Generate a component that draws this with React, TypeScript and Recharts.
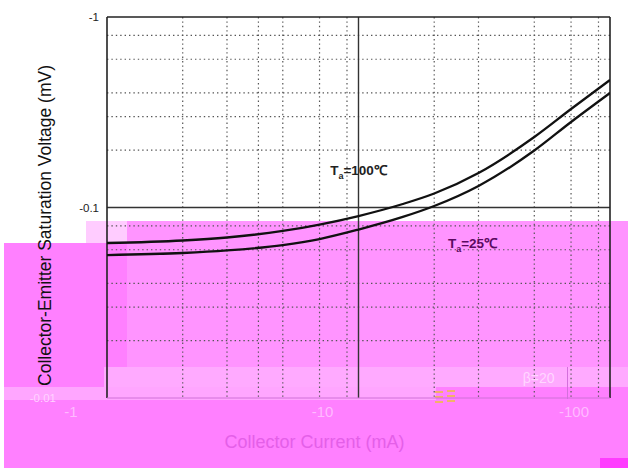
import React from 'react';
import {
  LineChart,
  Line,
  XAxis,
  YAxis,
  CartesianGrid,
  ReferenceLine,
  ReferenceDot,
} from 'recharts';

// PNP part: current and voltage are both negative, log-log axes.
const currentMa = [-1, -2, -3, -5, -7, -10, -15, -20, -30, -50, -70, -100];
const vceTa100 = [-0.0651, -0.0671, -0.0696, -0.0753, -0.0814, -0.0902, -0.1043, -0.1184, -0.1518, -0.2345, -0.3289, -0.4669];
const vceTa25 = [-0.0563, -0.0577, -0.0595, -0.0635, -0.0683, -0.0766, -0.0892, -0.1018, -0.1297, -0.1991, -0.2811, -0.3991];

const xTicks = [-1, -10, -100];
const yTicks = [-1, -0.1, -0.01];
const xMinor = [-2, -3, -4, -5, -6, -7, -8, -9, -20, -30, -40, -50, -60, -70, -80, -90];
const yMinor = [-0.9, -0.8, -0.7, -0.6, -0.5, -0.4, -0.3, -0.2, -0.09, -0.08, -0.07, -0.06, -0.05, -0.04, -0.03, -0.02];

const FONT = '"Liberation Sans", Arial, sans-serif';

const data = currentMa.map((ic, i) => ({ ic, t100: vceTa100[i], t25: vceTa25[i] }));

// the scan has a magenta smear over the lower half; approximate it with flat blocks
const smear: { l: number; t: number; w: number; h: number; c: string }[] = [
  { l: 4, t: 243, w: 624, h: 225, c: '#ff80ff' },
  { l: 86, t: 221, w: 41, h: 22, c: '#ffccff' },
  { l: 127, t: 221, w: 501, h: 22, c: '#ff94ff' },
  { l: 127, t: 243, w: 501, h: 124, c: '#ff94ff' },
  { l: 104, t: 367, w: 524, h: 20, c: '#ffaaff' },
  { l: 4, t: 387, w: 432, h: 13, c: '#ffa6ff' },
  { l: 567, t: 367, w: 1, h: 32, c: '#d470dc' },
  { l: 600, t: 458, w: 28, h: 10, c: '#ff3cff' },
  { l: 435, t: 391, w: 8, h: 2, c: '#f2b168' },
  { l: 435, t: 396, w: 8, h: 2, c: '#f2b168' },
  { l: 435, t: 401, w: 8, h: 2, c: '#f2b168' },
  { l: 447, t: 390, w: 8, h: 2, c: '#f2b168' },
  { l: 447, t: 395, w: 8, h: 2, c: '#f2b168' },
  { l: 447, t: 400, w: 8, h: 2, c: '#f2b168' },
];

function YTick(props: any) {
  const { x, y, payload } = props;
  const faint = payload.value === -0.01;
  return (
    <text
      x={x + (faint ? -43 : 0)}
      y={y}
      dy={4}
      textAnchor="end"
      fontSize={11.5}
      fontFamily={FONT}
      fill={faint ? '#ffd2ff' : '#222'}
    >
      {String(payload.value)}
    </text>
  );
}

function XTick(props: any) {
  const { x, y, payload } = props;
  return (
    <text x={x - 36} y={y} dy={13} textAnchor="middle" fontSize={15} fontFamily={FONT} fill="#ffbaff">
      {String(payload.value)}
    </text>
  );
}

function YTitle(props: any) {
  const vb = props.viewBox;
  const cx = vb.x - 2;
  const cy = vb.y + vb.height / 2 + 18;
  return (
    <text
      x={cx}
      y={cy}
      transform={`rotate(-90 ${cx} ${cy})`}
      textAnchor="middle"
      dominantBaseline="central"
      fontSize={17.5}
      fontFamily={FONT}
      fill="#111"
    >
      Collector-Emitter Saturation Voltage (mV)
    </text>
  );
}

function XTitle(props: any) {
  const vb = props.viewBox;
  return (
    <text
      x={vb.x + vb.width / 2 - 44}
      y={vb.y + 50}
      textAnchor="middle"
      fontSize={18}
      fontFamily={FONT}
      fill="#e45fe8"
    >
      Collector Current (mA)
    </text>
  );
}

function tempLabel(temp: string, color: string) {
  return (props: any) => {
    const vb = props.viewBox;
    const cx = vb.x + vb.width / 2;
    const cy = vb.y + vb.height / 2;
    return (
      <text x={cx} y={cy + 5} textAnchor="middle" fontSize={13.5} fontWeight={700} fontFamily={FONT} fill={color}>
        T
        <tspan fontSize={9} dy={4}>a</tspan>
        <tspan dy={-4}>{`=${temp}℃`}</tspan>
      </text>
    );
  };
}

function betaLabel(props: any) {
  const vb = props.viewBox;
  return (
    <text
      x={vb.x + vb.width / 2}
      y={vb.y + vb.height / 2 + 5}
      textAnchor="middle"
      fontSize={14}
      fontFamily={FONT}
      fill="#ffd6ff"
    >
      β=20
    </text>
  );
}

export default function App() {
  return (
    <div style={{ position: 'absolute', left: 0, top: 0, width: 628, height: 468, background: '#fff', overflow: 'hidden' }}>
      {smear.map((s, i) => (
        <div
          key={i}
          style={{ position: 'absolute', left: s.l, top: s.t, width: s.w, height: s.h, background: s.c }}
        />
      ))}
      <div style={{ position: 'absolute', left: 0, top: 0 }}>
        <LineChart width={628} height={468} data={data} margin={{ top: 17, right: 18, bottom: 40, left: 47 }}>
          <CartesianGrid
            horizontalValues={yMinor}
            verticalValues={xMinor}
            stroke="#555"
            strokeWidth={1.2}
            strokeDasharray="1.4 3"
          />
          <XAxis
            dataKey="ic"
            type="number"
            scale="log"
            domain={[-100, -1]}
            reversed
            ticks={xTicks}
            tick={<XTick />}
            tickLine={false}
            axisLine={false}
            tickSize={4}
            height={30}
            allowDataOverflow
            label={{ content: <XTitle /> }}
          />
          <YAxis
            type="number"
            scale="log"
            domain={[-1, -0.01]}
            reversed
            ticks={yTicks}
            tick={<YTick />}
            tickLine={false}
            axisLine={false}
            tickSize={6}
            width={60}
            allowDataOverflow
            label={{ content: <YTitle /> }}
          />
          <ReferenceLine x={-10} stroke="#333" strokeWidth={1.4} />
          <ReferenceLine y={-0.1} stroke="#333" strokeWidth={1.4} />
          <ReferenceLine y={-1} stroke="#222" strokeWidth={1.6} />
          <ReferenceLine x={-1} stroke="#222" strokeWidth={1.6} />
          <ReferenceLine x={-100} stroke="#222" strokeWidth={1.6} />
          <ReferenceLine y={-0.01} stroke="#d070d8" strokeWidth={1} />
          <Line
            dataKey="t100"
            type="monotone"
            stroke="#111"
            strokeWidth={2.3}
            dot={false}
            isAnimationActive={false}
          />
          <Line
            dataKey="t25"
            type="monotone"
            stroke="#111"
            strokeWidth={2.3}
            dot={false}
            isAnimationActive={false}
          />
          <ReferenceDot x={-10} y={-0.157} r={1} fill="none" stroke="none" label={tempLabel('100', '#222')} />
          <ReferenceDot x={-28.4} y={-0.065} r={1} fill="none" stroke="none" label={tempLabel('25', '#5a0a60')} />
          <ReferenceDot x={-52} y={-0.0127} r={1} fill="none" stroke="none" label={betaLabel} />
        </LineChart>
      </div>
    </div>
  );
}
